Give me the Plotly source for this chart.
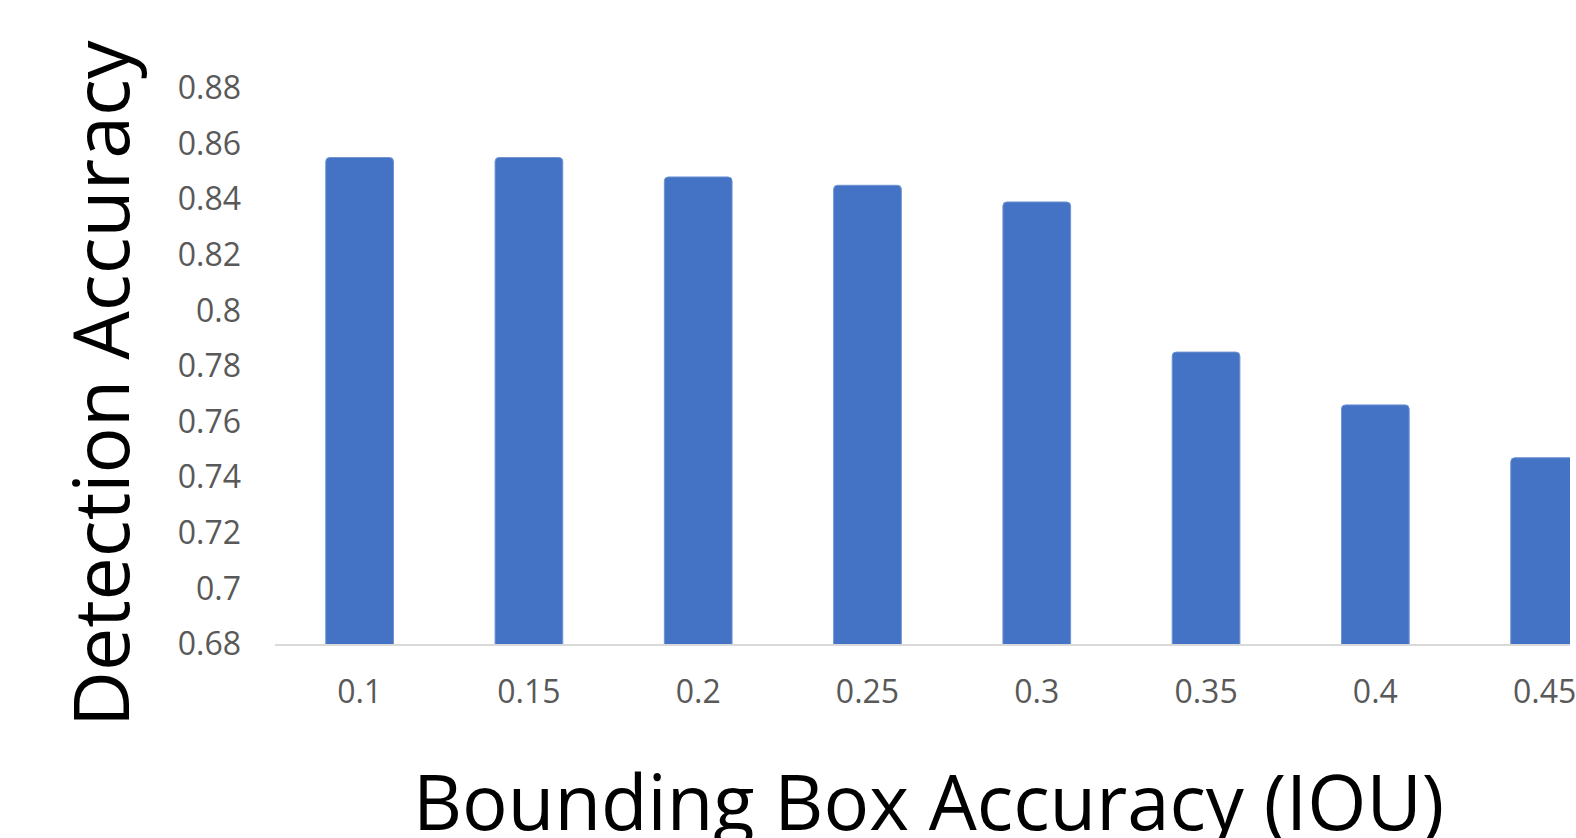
import plotly.graph_objects as go

# Data
iou_thresholds = ["0.1", "0.15", "0.2", "0.25", "0.3", "0.35", "0.4", "0.45"]
detection_accuracy = [0.855, 0.855, 0.848, 0.845, 0.839, 0.785, 0.766, 0.747]
y_tick_values = [0.68, 0.70, 0.72, 0.74, 0.76, 0.78, 0.80, 0.82, 0.84, 0.86, 0.88]
y_tick_labels = ["0.68", "0.7", "0.72", "0.74", "0.76", "0.78", "0.8", "0.82", "0.84", "0.86", "0.88"]

FONT = "Open Sans"

fig = go.Figure(
    go.Bar(
        x=iou_thresholds,
        y=detection_accuracy,
        marker=dict(color="#4472C4", line=dict(color="#6F93D3", width=1)),
        width=0.4,
    )
)

fig.update_layout(
    width=1576,
    height=838,
    margin=dict(l=275, r=0, t=88, b=194),
    paper_bgcolor="white",
    plot_bgcolor="white",
    showlegend=False,
    barcornerradius=4,
    font=dict(family=FONT, color="#595959"),
)

fig.update_xaxes(
    type="category",
    range=[-0.5, 7.15],
    showgrid=False,
    zeroline=False,
    showline=True,
    linecolor="#D9D9D9",
    linewidth=1.5,
    ticks="",
    tickfont=dict(size=32, color="#595959", family=FONT),
    ticklabelstandoff=19,
)

fig.update_yaxes(
    range=[0.68, 0.88],
    tickvals=y_tick_values,
    ticktext=y_tick_labels,
    showgrid=False,
    zeroline=False,
    showline=False,
    ticks="",
    tickfont=dict(size=32, color="#595959", family=FONT),
    ticklabelstandoff=33,
)

fig.add_annotation(
    text="Detection Accuracy",
    xref="paper", yref="paper",
    x=-0.135, y=0.468,
    xanchor="center", yanchor="middle",
    textangle=-90,
    showarrow=False,
    font=dict(size=77, color="black", family=FONT),
)

fig.add_annotation(
    text="Bounding Box Accuracy (IOU)",
    xref="paper", yref="paper",
    x=0.505, y=-0.282,
    xanchor="center", yanchor="middle",
    showarrow=False,
    font=dict(size=76, color="black", family=FONT),
)

fig.write_html("out.html")
